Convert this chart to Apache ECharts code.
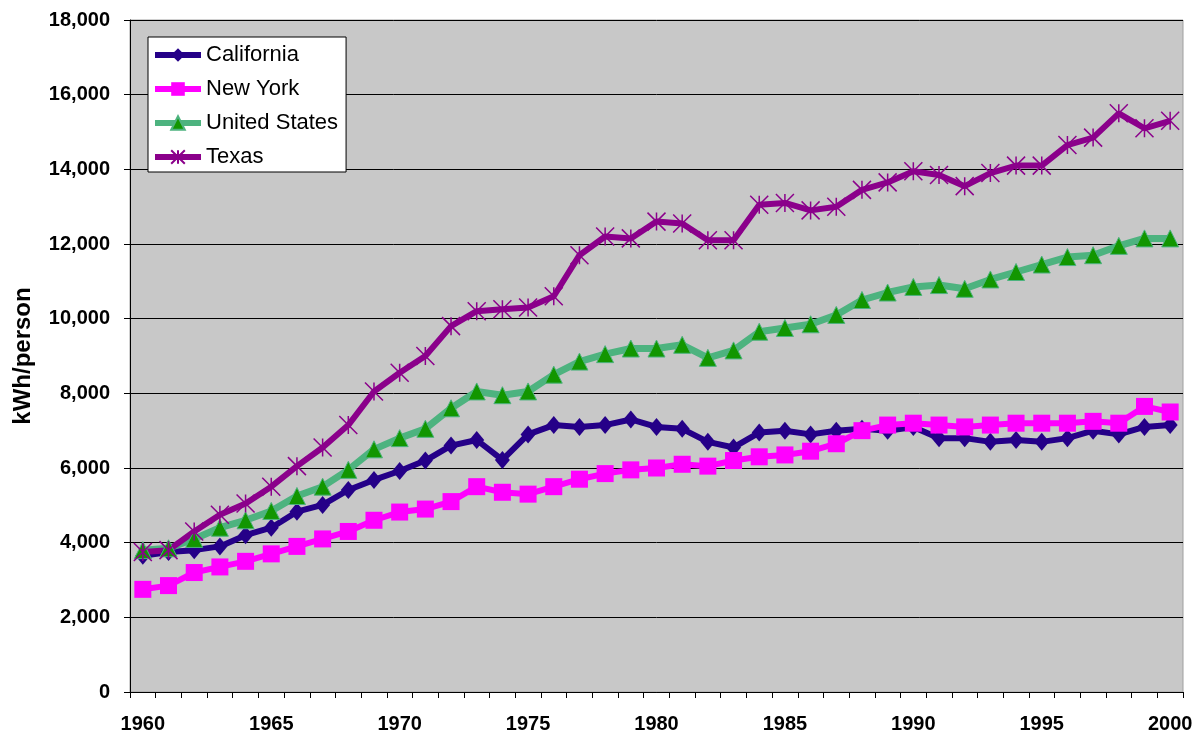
<!DOCTYPE html>
<html>
<head>
	<meta charset="UTF-8">
	<title>kWh per person</title>
	<style>
		html, body { margin: 0; padding: 0; background: #fff; }
		#main { width: 1196px; height: 739px; }
	</style>
</head>
<body>
	<div id="main"></div>
	<script src="https://cdn.jsdelivr.net/npm/echarts@6/dist/echarts.min.js"></script>
	<script type="text/javascript">
		// data
		var years = ['1960','1961','1962','1963','1964','1965','1966','1967','1968','1969',
			'1970','1971','1972','1973','1974','1975','1976','1977','1978','1979',
			'1980','1981','1982','1983','1984','1985','1986','1987','1988','1989',
			'1990','1991','1992','1993','1994','1995','1996','1997','1998','1999','2000'];
		var california = [3650,3750,3800,3900,4200,4400,4830,5010,5410,5680,
			5920,6200,6600,6750,6215,6900,7150,7100,7150,7300,
			7100,7050,6700,6550,6950,7000,6900,7000,7050,7000,
			7100,6800,6800,6700,6750,6700,6800,7000,6900,7100,7150];
		var newYork = [2750,2850,3200,3350,3500,3700,3900,4100,4300,4600,
			4820,4900,5100,5500,5350,5300,5500,5700,5850,5950,
			6000,6100,6050,6200,6300,6350,6450,6650,7000,7150,
			7200,7150,7100,7150,7200,7200,7200,7250,7200,7650,7500];
		var unitedStates = [3800,3850,4100,4400,4600,4850,5250,5500,5950,6500,
			6800,7050,7600,8050,7950,8050,8500,8850,9050,9200,
			9200,9300,8950,9150,9650,9750,9850,10100,10500,10700,
			10850,10900,10800,11050,11250,11450,11650,11700,11950,12150,12150];
		var texas = [3750,3800,4300,4750,5050,5500,6050,6550,7150,8050,
			8550,9000,9800,10200,10250,10300,10600,11700,12200,12150,
			12600,12550,12100,12100,13050,13100,12900,13000,13450,13650,
			13950,13850,13550,13900,14100,14100,14650,14850,15500,15100,15300];

		var font = 'Liberation Sans, Arial, sans-serif';
		var asterisk = 'path://M0,0L16,16M16,0L0,16M8,0L8,16';

		var myChart = echarts.init(document.getElementById('main'));

		var option = {
			animation: false,
			grid: {
				left: 130, right: 13, top: 20, bottom: 47,
				show: true,
				backgroundColor: '#c8c8c8',
				borderColor: '#a0a0a0',
				borderWidth: 1
			},
			legend: {
				orient: 'vertical',
				left: 148, top: 37,
				backgroundColor: '#fff',
				borderColor: '#000',
				borderWidth: 1,
				padding: [7, 8, 4, 4],
				itemGap: 12,
				itemWidth: 46,
				itemHeight: 17,
				lineStyle: { width: 6 },
				textStyle: { fontFamily: font, fontSize: 22, color: '#000' },
				data: ['California', 'New York', 'United States', 'Texas']
			},
			xAxis: {
				type: 'category',
				boundaryGap: true,
				data: years,
				axisLine: { lineStyle: { color: '#000', width: 1 } },
				axisTick: { show: true, interval: 0, length: 6, lineStyle: { color: '#000' } },
				axisLabel: {
					interval: 4, margin: 22,
					fontFamily: font, fontSize: 20, fontWeight: 'bold', color: '#000'
				},
				splitLine: { show: false }
			},
			yAxis: {
				type: 'value',
				min: 0, max: 18000, interval: 2000,
				name: 'kWh/person',
				nameLocation: 'middle',
				nameRotate: 90,
				nameGap: 95,
				nameTextStyle: { fontFamily: font, fontSize: 24, fontWeight: 'bold', color: '#000' },
				axisLine: { show: true, lineStyle: { color: '#000', width: 1 } },
				axisTick: { show: true, length: 6, lineStyle: { color: '#000' } },
				axisLabel: {
					margin: 20,
					fontFamily: font, fontSize: 20, fontWeight: 'bold', color: '#000',
					formatter: function (v) { return v.toLocaleString('en-US'); }
				},
				splitLine: { show: true, lineStyle: { color: '#000', width: 1 } }
			},
			series: [{
				name: 'California',
				type: 'line',
				data: california,
				showAllSymbol: true,
				symbol: 'diamond',
				symbolSize: [15, 18],
				itemStyle: { color: '#250088' },
				lineStyle: { color: '#250088', width: 6 }
			}, {
				name: 'New York',
				type: 'line',
				data: newYork,
				showAllSymbol: true,
				symbol: 'rect',
				symbolSize: 17,
				itemStyle: { color: '#ff00ff' },
				lineStyle: { color: '#ff00ff', width: 6 }
			}, {
				name: 'United States',
				type: 'line',
				data: unitedStates,
				showAllSymbol: true,
				symbol: 'triangle',
				symbolSize: 17,
				itemStyle: { color: '#129600', borderColor: '#4db37f', borderWidth: 1 },
				lineStyle: { color: '#4db37f', width: 7 }
			}, {
				name: 'Texas',
				type: 'line',
				data: texas,
				showAllSymbol: true,
				symbol: asterisk,
				symbolSize: 18,
				itemStyle: { color: '#8b008b', borderColor: '#8b008b', borderWidth: 1.5 },
				lineStyle: { color: '#8b008b', width: 6 }
			}]
		};

		myChart.setOption(option);
	</script>
</body>
</html>
